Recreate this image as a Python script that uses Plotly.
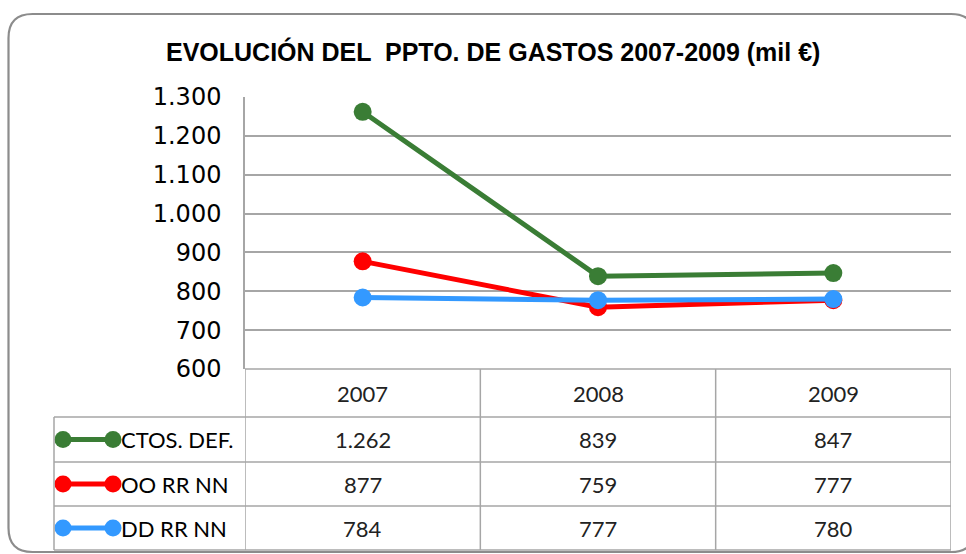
import plotly.graph_objects as go

years = ["2007", "2008", "2009"]
series_names = ["CTOS. DEF.", "OO RR NN", "DD RR NN"]
ctos_def = [1262, 839, 847]
oo_rr_nn = [877, 759, 777]
dd_rr_nn = [784, 777, 780]
series_values = [ctos_def, oo_rr_nn, dd_rr_nn]
colors = ["#3A7D35", "#FF0000", "#3399FF"]
title_text = "EVOLUCIÓN DEL  PPTO. DE GASTOS 2007-2009 (mil €)"

W, H = 966, 554
PX_L, PX_R, PX_T, PX_B = 245, 951, 97, 369
ROW_Y = [369, 417, 462, 506, 550]
LBL_X0 = 54
GRID = "#A6A6A6"


def fmt(v):
    return f"{v:,}".replace(",", ".")


fig = go.Figure()
for name, vals, col in zip(series_names, series_values, colors):
    fig.add_trace(go.Scatter(
        x=years, y=vals, mode="lines+markers", name=name,
        line=dict(color=col, width=5),
        marker=dict(color=col, size=18),
        showlegend=False, hoverinfo="skip",
        xaxis="x", yaxis="y"))

# legend swatches in the table row label cells (pixel overlay axes)
for i, col in enumerate(colors):
    yc = (ROW_Y[i + 1] + ROW_Y[i + 2]) / 2
    fig.add_trace(go.Scatter(
        x=[63, 113], y=[yc, yc], mode="lines+markers",
        line=dict(color=col, width=5), marker=dict(color=col, size=17),
        showlegend=False, hoverinfo="skip", xaxis="x2", yaxis="y2"))

shapes = []
# outer rounded border
x0, y0, x1, y1, r = 8.5, 14, 975, 552, 24
shapes.append(dict(
    type="path", xref="x2", yref="y2",
    path=(f"M {x0+r},{y0} L {x1-r},{y0} Q {x1},{y0} {x1},{y0+r} "
          f"L {x1},{y1-r} Q {x1},{y1} {x1-r},{y1} L {x0+r},{y1} "
          f"Q {x0},{y1} {x0},{y1-r} L {x0},{y0+r} Q {x0},{y0} {x0+r},{y0} Z"),
    line=dict(color="#8C8C8C", width=2.2), layer="below"))

# table horizontal lines
shapes.append(dict(type="line", xref="x2", yref="y2", x0=PX_L, x1=PX_R,
                   y0=ROW_Y[0], y1=ROW_Y[0], line=dict(color=GRID, width=1.5)))
for yy in ROW_Y[1:]:
    shapes.append(dict(type="line", xref="x2", yref="y2", x0=LBL_X0, x1=PX_R,
                       y0=yy, y1=yy, line=dict(color=GRID, width=1.5)))
# table vertical lines at category boundaries
for k in range(len(years) + 1):
    shapes.append(dict(type="line", xref="x", yref="y2", x0=k - 0.5, x1=k - 0.5,
                       y0=ROW_Y[0], y1=ROW_Y[-1], line=dict(color=GRID, width=1.5)))
shapes.append(dict(type="line", xref="x2", yref="y2", x0=LBL_X0, x1=LBL_X0,
                   y0=ROW_Y[1], y1=ROW_Y[-1], line=dict(color=GRID, width=1.5)))

annotations = []
tfont = dict(family="Lato, Open Sans, sans-serif", size=22, color="#222222")
lfont = dict(family="Lato, Open Sans, sans-serif", size=22, color="#000000")
for j, yr in enumerate(years):
    annotations.append(dict(x=j, y=(ROW_Y[0] + ROW_Y[1]) / 2, xref="x", yref="y2",
                            text=yr, showarrow=False, font=tfont))
for i, (name, vals) in enumerate(zip(series_names, series_values)):
    yc = (ROW_Y[i + 1] + ROW_Y[i + 2]) / 2
    annotations.append(dict(x=119, y=yc, xref="x2", yref="y2", text=name,
                            xanchor="left", showarrow=False, font=lfont))
    for j, v in enumerate(vals):
        annotations.append(dict(x=j, y=yc, xref="x", yref="y2", text=fmt(v),
                                showarrow=False, font=tfont))
annotations.append(dict(x=493, y=51, xref="x2", yref="y2", text=f"<b>{title_text}</b>",
                        showarrow=False,
                        font=dict(family="Liberation Sans Narrow, Arial Narrow, Liberation Sans",
                                  size=25, color="#000000")))

fig.update_layout(
    width=W, height=H,
    margin=dict(l=0, r=0, t=0, b=0, pad=0, autoexpand=False),
    paper_bgcolor="white", plot_bgcolor="rgba(0,0,0,0)",
    separators=",.",
    xaxis=dict(domain=[PX_L / W, PX_R / W], range=[-0.5, 2.5], type="category",
               showgrid=False, showticklabels=False, zeroline=False, showline=False,
               anchor="y", fixedrange=True, automargin=False),
    yaxis=dict(domain=[1 - PX_B / H, 1 - PX_T / H], range=[600, 1300], dtick=100,
               tickformat=",d", showgrid=True, gridcolor=GRID, gridwidth=1.5,
               zeroline=False, showline=True, linecolor=GRID, linewidth=1.5,
               ticks="", ticklabelstandoff=17, anchor="x", automargin=False,
               tickfont=dict(family="DejaVu Sans", size=24, color="#000000")),
    xaxis2=dict(domain=[0, 1], range=[0, W], visible=False, anchor="y2",
                fixedrange=True, automargin=False),
    yaxis2=dict(domain=[0, 1], range=[H, 0], visible=False, anchor="x2",
                fixedrange=True, automargin=False),
    shapes=shapes, annotations=annotations,
)

fig.write_html("out.html", config={"displayModeBar": False},
               post_script="document.body.style.margin='0px';")
